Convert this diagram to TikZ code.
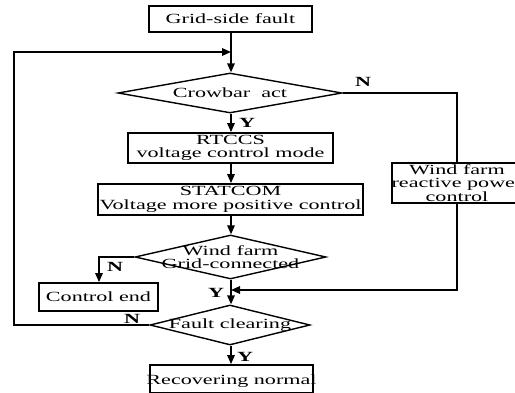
\documentclass[tikz,border=0pt]{standalone}
\usepackage{fontspec}
\setmainfont{Liberation Serif}[FakeStretch=1.58]
\usetikzlibrary{shapes.geometric,arrows.meta}
\begin{document}
\begin{tikzpicture}[x=1pt,y=-1pt,
  txt/.style={font=\fontsize{14}{13.5}\selectfont, align=center, inner sep=0pt},
  lbl/.style={font=\fontsize{14}{14}\selectfont\bfseries, inner sep=0pt},
  stepbox/.style={draw, line width=1.8pt, inner sep=0pt, minimum width=#1},
  dia/.style={draw, diamond, line width=1.4pt, inner sep=0pt},
  ln/.style={line width=1.6pt},
  arr/.style={line width=1.6pt, -{Triangle[length=9pt,width=7.5pt]}}]
\useasboundingbox (0,0) rectangle (515,393);
\clip (0,0) rectangle (515,393);
% boxes
\node[stepbox=163pt, minimum height=26pt] (start) at (230.5,19) {};
\node[txt] at (start) {Grid-side fault};
\node[dia, minimum width=224pt, minimum height=40pt] (cb) at (230,93) {};
\node[txt] at (cb) {Crowbar\ \ act};
\node[stepbox=205pt, minimum height=30pt] (rt) at (230.5,148) {};
\node[txt] at (rt) {RTCCS\\voltage control mode};
\node[stepbox=265pt, minimum height=31pt] (st) at (230.5,199.5) {};
\node[txt] at (st) {STATCOM\\Voltage more positive control};
\node[dia, minimum width=191pt, minimum height=44pt] (wf) at (230.5,257) {};
\node[txt] at (wf) {Wind farm\\Grid-connected};
\node[stepbox=119pt, minimum height=28pt] (ce) at (98.5,297) {};
\node[txt] at (ce) {Control end};
\node[dia, minimum width=160pt, minimum height=40pt] (fc) at (230,325) {};
\node[txt] at (fc) {Fault clearing};
\node[stepbox=163pt, minimum height=28pt] (rn) at (231.5,379) {};
\node[txt] at ([yshift=-2pt]rn.center) {Recovering normal};
\node[stepbox=130pt, minimum height=40pt] (rp) at (457,183) {};
\node[txt] at (rp) {Wind farm\\reactive power\\control};
% coordinates
\coordinate (loopin) at (231,52);
\coordinate (loopL1) at (14,52);
\coordinate (loopL2) at (14,325);
\coordinate (cbR) at (457,93);
\coordinate (rpB) at (457,290);
\coordinate (join) at (231,290);
\coordinate (ceT) at (99,257);
% connectors
\draw[arr] (start.south -| loopin) -- (cb.north -| loopin);
\draw[arr] (fc.west) -- (loopL2) -- (loopL1) -- (loopin);
\draw[arr] (cb.south -| loopin) -- (rt.north -| loopin);
\draw[arr] (rt.south -| loopin) -- (st.north -| loopin);
\draw[arr] (st.south -| loopin) -- (wf.north -| loopin);
\draw[arr] (wf.south -| loopin) -- (fc.north -| loopin);
\draw[arr] (fc.south -| loopin) -- (rn.north -| loopin);
\draw[ln] (cb.east) -- (cbR) -- (rp.north);
\draw[arr] (rp.south) -- (rpB) -- (join);
\draw[arr] (wf.west) -- (ceT) -- (ce.north -| ceT);
% labels
\node[lbl] (n1) at (363,82) {N};
\node[lbl] (y1) at (247,123) {Y};
\node[lbl] (n2) at (115,267) {N};
\node[lbl] (y2) at (216,293) {Y};
\node[lbl] (n3) at (132,319) {N};
\node[lbl] (y3) at (245,357) {Y};
\end{tikzpicture}
\end{document}
